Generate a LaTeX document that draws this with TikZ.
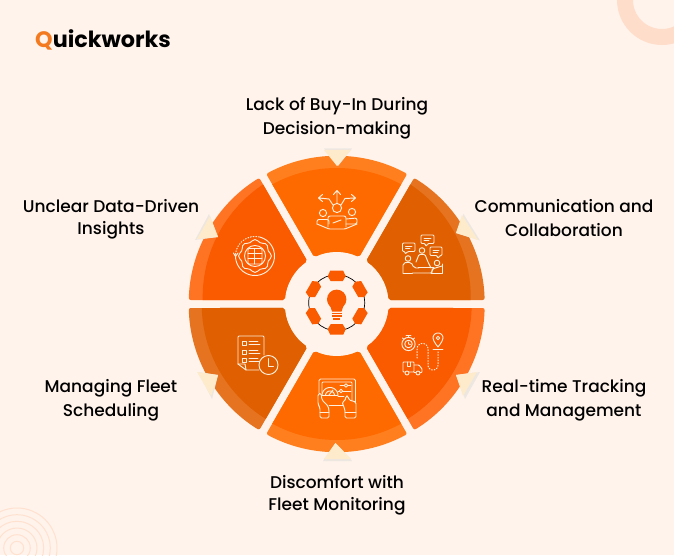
\documentclass[tikz,border=0pt]{standalone}
\usepackage{fontspec}
\setmainfont{Poppins}[UprightFont=* Medium,BoldFont=* Bold]
\definecolor{bgc}{HTML}{FFF3EB}
\definecolor{ringc}{HTML}{FFDDCB}
\definecolor{ringb}{HTML}{FFE1D0}
\definecolor{oa}{HTML}{FF7F1F}
\definecolor{ia}{HTML}{FF6A00}
\definecolor{ob}{HTML}{E57320}
\definecolor{ib}{HTML}{E05F00}
\definecolor{oc}{HTML}{FF7422}
\definecolor{ic}{HTML}{FA5A00}
\definecolor{cream}{HTML}{FDEBCC}
\definecolor{shade}{HTML}{EDE7E2}
\definecolor{ico}{HTML}{FFEFDC}
\definecolor{logoc}{HTML}{F47A1F}
\tikzset{x=1pt,y=1pt,
 lbl/.style={font=\fontsize{17}{20}\selectfont,text=black,inner sep=0pt,anchor=center},
 tri/.style={fill=cream,draw=none},
 trs/.style={fill=shade,draw=none},
 icon/.style={draw=ico,line width=.95pt,fill=none,line join=round,line cap=round},
 dotl/.style={draw=ico,line width=1pt,dash pattern=on .9pt off 1.8pt,line cap=round},
 hexn/.style={fill=ic,draw=none}}
\newcommand{\sectorpath}[2]{(#1+1.55:148) arc[start angle=#1+1.55,end angle=#2-1.55,radius=148] -- (#2-4.41:52) arc[start angle=#2-4.41,end angle=#1+4.41,radius=52] -- cycle}
\newcommand{\sector}[6]{%
 \begin{scope}
  \clip[rounded corners=2pt] \sectorpath{#1}{#2};
  \fill[#3] (-200,-200) rectangle (200,200);
  \fill[#4] (#5,#6) circle[radius=135];
 \end{scope}}
\begin{document}
\begin{tikzpicture}
\useasboundingbox (0,0) rectangle (674,555);
\fill[bgc] (0,0) rectangle (674,555);
% decorations
\begin{scope}
 \clip (0,0) rectangle (674,555);
 \draw[ringc,line width=16pt] (662,555) circle[radius=37];
 \foreach \r in {6.7,13.3,20,26.7,33.3,40}
  \draw[ringb,line width=1pt] (17,7) circle[radius=\r];
\end{scope}
% wheel
\begin{scope}[shift={(336.7,251)}]
 \sector{60}{120}{oa}{ia}{0}{1}
 \sector{0}{60}{ob}{ib}{-1}{7}
 \sector{-60}{0}{oc}{ic}{0}{0}
 \sector{-120}{-60}{oa}{ia}{0}{-1}
 \sector{180}{240}{ob}{ib}{0}{0}
 \sector{120}{180}{oc}{ic}{1}{7}
\end{scope}
\begin{scope}[shift={(0,555)},y=-1pt]
% triangles
\fill[trs] (324,148.5)--(352,148.5)--(338,166)--cycle;
\fill[tri] (324,150)--(351,150)--(337,166)--cycle;
\fill[trs] (463.5,214)--(480,240.5)--(456,233)--cycle;
\fill[tri] (462,215)--(478,240)--(456,233)--cycle;
\fill[trs] (456,375)--(480,372)--(465,399)--cycle;
\fill[tri] (456,375)--(477,372)--(463,396)--cycle;
\fill[trs] (335.5,443)--(352,461)--(323,461)--cycle;
\fill[tri] (335.5,443)--(351,459)--(324,459)--cycle;
\fill[trs] (218,375)--(198,372)--(212,399)--cycle;
\fill[tri] (218,375)--(197,372)--(211,396)--cycle;
\fill[trs] (218,237)--(209,214)--(195,240)--cycle;
\fill[tri] (218,237)--(210,216)--(197,239)--cycle;
% centre
\draw[black,line width=.7pt] (336.7,302.7) circle[radius=28];
\foreach \a in {0,60,120,180,240,300}
 \fill[hexn,rotate around={\a:(336.7,302.7)}] (330.2,270.7)--(343.2,270.7)--(345.7,276.2)--(342.7,281.2)--(330.7,281.2)--(327.7,276.2)--cycle;
\fill[ic] (336.7,299.3) circle[radius=9.7];
\fill[ic] (329.5,304)--(344,304)--(341.5,311.5)--(332,311.5)--cycle;
\fill[ic] (331.7,312.6) rectangle (341.7,314.2);
\fill[ic] (331.7,315.4) rectangle (341.7,317);
\fill[ic] (333,318.2) rectangle (340.4,319.8);
% icon: top
\draw[icon] (337,208) circle[radius=4.6];
\draw[icon] (337,203.4)--(337,191) (333.5,194.5)--(337,190.5)--(340.5,194.5);
\draw[icon] (333,205)--(329,199) -- (319,198) (322.5,194.5)--(318.5,198)--(322.5,201.5);
\draw[icon] (341,205)--(345,198.5) -- (355,198) (351.5,194.5)--(355.5,198)--(351.5,201.5);
\draw[icon] (323,213) circle[radius=3.6];
\draw[icon] (352,212) circle[radius=3.6];
\draw[icon,rounded corners=2pt] (317,224)--(317,219.5)--(329,219.5)--(329,224);
\draw[icon,rounded corners=2pt] (346,219)--(357,218)--(357,224)--(346,224);
\draw[icon,rounded corners=2pt] (328,227)--(328,216)--(346,216)--(346,227);
\draw[icon,rounded corners=1pt] (317,224)--(329,229)--(345,229)--(357,224);
\draw[icon] (333,223)--(341,220);
% icon: upper right
\draw[icon,rounded corners=1pt] (402.5,243)--(415,243)--(415,251.5)--(408,251.5)--(405,254)--(405,251.5)--(402.5,251.5)--cycle;
\draw[icon,rounded corners=1pt] (421,235)--(434,235)--(434,243.5)--(428,243.5)--(426,246.5)--(425,243.5)--(421,243.5)--cycle;
\draw[icon,rounded corners=1pt] (430,247)--(442,247)--(442,255.5)--(440,255.5)--(438,258.5)--(437,255.5)--(430,255.5)--cycle;
\draw[icon] (405.5,246)--(412,246) (405.5,248.5)--(410,248.5) (424,238)--(431,238) (424,240.5)--(429,240.5) (433,250)--(439,250) (433,252.5)--(438,252.5);
\draw[icon] (422,250.5) circle[radius=2.8];
\draw[icon] (408,258.5) circle[radius=2.8];
\draw[icon] (437,263) circle[radius=2.8];
\draw[icon,rounded corners=2pt] (403,273)--(403,263)--(411,262)--(414,268)--(419,268);
\draw[icon,rounded corners=1pt] (416,262)--(419,254.5)--(425,254.5)--(428,262)--(431,268);
\draw[icon] (412.5,273)--(431,273)--(434,267.5)--(418,267.5);
\draw[icon] (403,273)--(412.5,273) (431,273)--(442,273)--(442,264);
\draw[icon,rounded corners=1pt] (432,273)--(432,269)--(442,266);
% icon: lower right
\draw[icon] (408.5,344) circle[radius=6.6];
\draw[icon] (408.5,344) circle[radius=3.8];
\draw[icon] (408.5,344)--(408.5,342) (408.5,344)--(410.5,344.5);
\draw[icon] (406,335.5)--(411,335.5) (408.5,335.5)--(408.5,337.4) (402.5,338)--(404,339.5) (414.5,338)--(413,339.5);
\draw[icon] (438,347) .. controls (434,342) and (433,339.5) .. (433,338) -- plot[smooth,domain=180:360,samples=24] ({438+5*cos(\x)},{338+5*sin(\x)}) -- (443,338) .. controls (443,339.5) and (442,342) .. (438,347);
\draw[icon] (438,338) circle[radius=1.8];
\draw[icon] (433,349.5)--(443,349.5);
\draw[dotl] (417,358) -- (417,349) -- plot[smooth,domain=180:360,samples=24] ({422.5+5.5*cos(\x)},{349+5.5*sin(\x)}) -- (428,365) -- plot[smooth,domain=180:0,samples=24] ({433+5*cos(\x)},{365+5*sin(\x)}) -- (438,351);
\draw[icon,rounded corners=.7pt] (403,362)--(414,362)--(414,372)--(403,372)--cycle;
\draw[icon,rounded corners=.7pt] (414,365)--(419,365)--(422,369)--(422,372.5)--(414,372.5);
\draw[icon,fill=ic] (407,373) circle[radius=2];
\draw[icon,fill=ic] (418,373) circle[radius=2];
\draw[icon] (407,362)--(407,366)--(410,366)--(410,362);
% icon: bottom
\draw[icon,rounded corners=1.5pt] (319,393)--(319,379)--(355.5,379)--(355.5,405)--(350,405);
\draw[icon,rounded corners=1pt] (322,393)--(322,382)--(352,382)--(352,402);
\draw[icon] (329,405)--(343,405);
\draw[icon] plot[smooth,domain=180:360,samples=24] ({330+8*cos(\x)},{395.5+8*sin(\x)}) -- cycle;
\draw[icon] plot[smooth,domain=180:360,samples=24] ({330+4.5*cos(\x)},{395.5+4.5*sin(\x)});
\draw[icon] (329,395)--(333,390);
\draw[icon] (340,385.5)--(351,385.5) (338,391)--(351,391) (338,396)--(344,396);
\draw[icon,fill=ia] (346,385.5) circle[radius=1.7];
\draw[icon,fill=ia] (341,391) circle[radius=1.7];
\draw[icon,fill=ia,rounded corners=1.5pt] (320,418)--(320,408)--(318,404)--(318,394)--(321,393)--(322,400)--(328,406)--(329,410)--(329,418)--cycle;
\draw[icon] (320,412)--(329,412);
\draw[icon,fill=ia,rounded corners=1.5pt] (345,418)--(345,410)--(342,402)--(345,401)--(346,396)--(348,396)--(349,400)--(356,402)--(356,418)--cycle;
\draw[icon] (345,412)--(356,412);
% icon: lower left
\draw[icon,rounded corners=1pt] (238,364)--(238,336)--(264,336)--(264,355);
\draw[icon,rounded corners=.5pt] (238,364)--(246,370)--(259,370);
\draw[icon] (238,364)--(245,364)--(246,370);
\foreach \yy in {341,350,358}{
 \draw[icon] (242,\yy)--(246,\yy)--(246,\yy+4)--(242,\yy+4)--cycle;
 \draw[icon] (249,\yy)--(258,\yy) (249,\yy+3.5)--(260,\yy+3.5);
}
\draw[icon,fill=ib] (268.5,365) circle[radius=9.5];
\draw[icon] (268,358.5)--(268,366)--(273.5,366);
% icon: upper left
\draw[icon] plot[smooth,domain=285:540,samples=40] ({255+19.5*cos(\x)},{256+19.5*sin(\x)});
\draw[dotl] plot[smooth,domain=185:285,samples=20] ({255+19.5*cos(\x)},{256+19.5*sin(\x)});
\draw[icon] (233.5,253)--(235.5,256.5)--(238,253);
\draw[icon] plot[smooth cycle,domain=0:350,samples=36] ({255+(15.3+1.1*cos(8*\x))*cos(\x)},{256+(15.3+1.1*cos(8*\x))*sin(\x)});
\draw[icon] (255,256) circle[radius=10.5];
\draw[icon,rounded corners=1pt] (248,248.5) rectangle (262,264);
\draw[icon] (248,253.5)--(262,253.5) (248,258.5)--(262,258.5) (254,248.5)--(254,264);
% texts
\node[lbl] (t1a) at (337,106.5) {Lack of Buy-In During};
\node[lbl] (t1b) at (337,130.5) {Decision-making};
\node[lbl] (t2a) at (564,206.5) {Communication and};
\node[lbl] (t2b) at (564,230.5) {Collaboration};
\node[lbl] (t3a) at (564,388.5) {Real-time Tracking};
\node[lbl] (t3b) at (564,412.5) {and Management};
\node[lbl] (t4a) at (337,482.5) {Discomfort with};
\node[lbl] (t4b) at (337,506.5) {Fleet Monitoring};
\node[lbl] (t5a) at (111,388.5) {Managing Fleet};
\node[lbl] (t5b) at (111,412.5) {Scheduling};
\node[lbl] (t6a) at (111,206.5) {Unclear Data-Driven};
\node[lbl] (t6b) at (111,230.5) {Insights};
\node[inner sep=0pt,anchor=base west,font=\fontsize{22.3}{26}\selectfont\bfseries,text=black] (logo) at (35,47.5) {\textcolor{logoc}{Q}uickworks};
\end{scope}
\end{tikzpicture}
\end{document}
